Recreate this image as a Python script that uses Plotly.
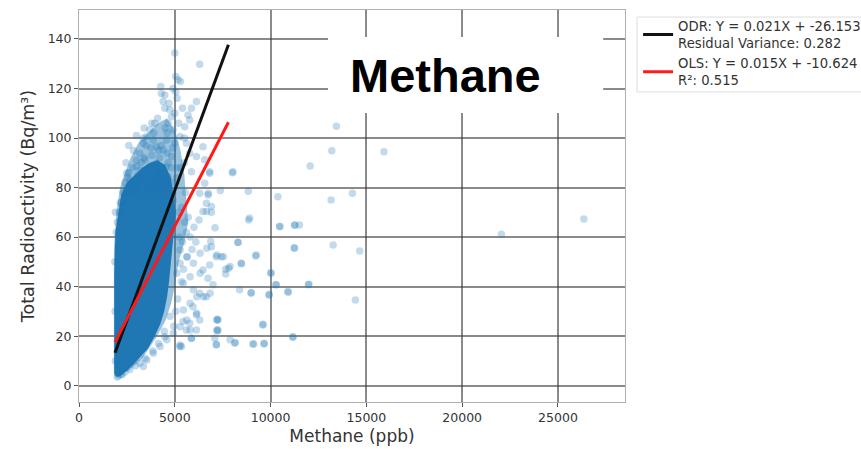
import plotly.graph_objects as go

# ---- data ----
# isolated / fringe scatter points: methane (ppb), total radioactivity (Bq/m3)
methane_pts = [
    13437, 13194, 15920, 12066, 14271, 13160, 26354, 22050, 13264, 14653, 11979, 14427, 11510,
    8003, 6823, 7378, 8837, 10382, 8906, 10486, 11267, 7101, 8300, 11233, 9219, 8472, 10000,
    7812, 7656, 10278, 8976, 9932, 10920, 7222, 9601, 7222, 11163, 8160, 9115, 9670, 7170, 7083,
    6755, 6650, 6911, 6474, 6266, 6875, 6911, 7171, 7432, 7656, 6823, 6474, 6734, 6994, 6302,
    6650, 5953, 6130, 5781, 5432, 5609, 5869, 5349, 4479,
    5260, 5869, 6130, 6302, 7255, 7255, 7171, 8124, 9080, 9653, 11163, 9601, 8385, 8994,
    9913, 10295, 10904, 11996, 10035, 8472, 9254, 8300, 10470, 11250, 11250, 8855,
    5000, 6302, 4271, 5052, 5172, 5297, 5052, 5120, 4479, 4391, 4479, 6130, 5869, 5692, 5781,
    5521, 4739, 4828, 4651, 4911, 3958, 3698, 3526, 3349, 5260, 5609, 5781, 6130, 6474, 6562,
    5869, 6823, 6562, 6302, 6734, 6911, 6650, 8036, 2484, 2656, 2396, 2224, 2307,
    3349, 3177, 3437, 3005, 3698, 4047, 4219, 4567, 4047, 4479, 3609, 3177, 3005, 3437, 3870,
    4219, 4911, 4651, 4828, 4391, 4047, 3870, 4567,
    5277, 5626, 5971, 6320, 6670, 7192, 7536, 7886, 6320, 5799, 5449, 5971, 6493, 6842, 5799,
    5449, 6148, 5626, 5277, 4927, 5799, 4582, 4233, 3883, 3539, 3189, 3361, 5277, 7192, 7192,
    7886, 6148, 5104, 5277,
    5400, 5600, 5800, 6000, 5500, 5200, 5700, 6100, 5900,
    2300, 2500, 2700, 2900, 3100, 3300, 3500, 3700, 3900, 4100, 4300, 4500, 4700, 4900,
    2600, 2800, 3200, 3600, 4000, 4400, 4800, 3400, 3800, 4200, 4600, 3000, 5100, 5300, 5500,
    2400, 3500, 4300, 4900, 3900, 4500, 5200, 4100, 4700, 5000, 5400, 4300, 4900,
    2000, 2200, 2400, 1950, 2000, 2100, 2150,
    2550, 2750, 3050, 3350, 3650, 3950, 4250, 4550, 4850, 2450, 2850, 3250, 3750, 4150, 4650,
    5050, 5150, 5350, 5450, 5650, 5250, 4950, 5350, 5550, 5150, 4750, 4450, 4150, 3850, 3450,
    2950, 2650, 2250, 2050, 1900, 1880, 1870, 1900, 2600, 3000, 3400, 3800, 4600, 5000, 5500,
]
radio_pts = [
    104.8, 94.9, 94.5, 88.7, 77.7, 75.0, 67.3, 61.1, 56.8, 54.4, 40.7, 34.6, 64.9,
    86.0, 86.4, 78.8, 78.5, 76.3, 67.7, 64.4, 64.8, 63.8, 57.9, 55.7, 52.4, 49.2, 45.6,
    47.4, 45.1, 40.7, 37.3, 36.8, 37.7, 26.8, 24.8, 22.1, 19.5, 17.4, 16.8, 17.1, 16.7, 19.1,
    77.7, 73.7, 70.0, 70.3, 66.9, 58.2, 56.1, 52.1, 52.1, 47.0, 48.7, 46.7, 43.4, 40.7, 37.3,
    35.9, 31.9, 28.6, 25.2, 25.9, 22.5, 19.1, 15.8, 19.8,
    15.8, 19.1, 22.5, 26.5, 26.5, 22.5, 16.4, 17.1, 16.8, 16.8, 19.8, 24.5, 38.7, 37.6,
    36.6, 40.7, 38.0, 41.0, 45.4, 49.4, 52.8, 57.8, 64.2, 64.9, 55.5, 66.9,
    134.3, 129.8, 120.8, 124.8, 123.5, 122.8, 118.7, 116.1, 117.4, 114.7, 112.0, 114.7, 112.0, 109.3, 107.3,
    104.6, 111.4, 108.6, 106.0, 103.3, 106.0, 103.3, 100.6, 99.9, 100.6, 97.9, 93.9, 92.5, 96.5, 91.2,
    86.4, 85.8, 81.7, 77.7, 77.0, 72.3, 70.3, 86.4, 85.8, 83.1, 77.7, 73.7, 69.6,
    97.9, 93.9, 91.2, 88.5, 88.5, 89.8, 85.8, 88.5, 83.1, 80.4, 80.4, 84.4, 79.0, 76.3, 77.7,
    75.0, 75.0, 84.4, 92.5, 95.2, 96.5, 99.2, 99.2,
    54.8, 52.1, 49.4, 53.5, 55.5, 52.8, 52.1, 48.1, 45.4, 44.0, 41.4, 38.7, 35.9, 37.3, 33.3,
    30.6, 29.2, 26.5, 23.8, 21.2, 22.5, 18.5, 15.8, 13.1, 10.4, 9.0, 7.7, 16.4, 26.5, 22.5,
    18.5, 35.9, 45.4, 49.4,
    58, 62, 60, 64, 66, 70, 68, 58, 55,
    78, 80, 78, 82, 80, 83, 79, 82, 80, 79, 82, 78, 80, 78,
    86, 88, 87, 86, 87, 86, 88, 92, 93, 92, 94, 91, 84, 88, 90,
    82, 97, 97, 96, 102, 104, 106, 108, 114, 110, 112, 118, 120,
    3.5, 4.5, 5.5, 62, 66, 70, 74,
    84, 81, 85, 84, 88, 84, 85, 83, 82, 90, 95, 90, 96, 95, 90,
    30, 35, 42, 47, 52, 60, 24, 72, 78, 88, 28, 22, 17, 14, 11,
    8, 6.5, 4.5, 4, 10, 30, 50, 70, 97, 101, 104, 106, 102, 98, 100,
]

# outline of the saturated dense core of the cloud
core_methane = [1840, 1950, 2150, 2500, 2900, 3200, 3600, 3950, 4250, 4450, 4600, 4700,
                4800, 4900, 5000, 5050, 4900, 4800, 4500, 4100, 3700, 3300, 2900, 2500,
                2200, 2050, 1900, 1840, 1830, 1840]
core_radio = [5, 3.5, 3.8, 6, 9, 11.5, 15, 20, 25, 30, 36, 42,
              50, 57, 63, 70, 78, 84, 89, 91, 90, 88, 85, 82,
              77, 70, 62, 45, 20, 5]

# outline of the half-dense halo around the core
halo_methane = [1820, 2600, 3300, 4000, 4500, 4800, 5000, 5200, 5500, 5700, 5600, 5500,
                5300, 5000, 4600, 4100, 3600, 3100, 2700, 2400, 2150, 1950, 1820, 1810, 1820]
halo_radio = [4, 6, 11, 19, 26, 33, 40, 50, 58, 66, 75, 85,
              95, 103, 108, 106, 102, 98, 92, 86, 80, 70, 55, 30, 4]

# fitted lines
fit_x = [1880, 7800]
odr_slope, odr_intercept = 0.021, -26.153
ols_slope, ols_intercept = 0.015, -10.624
odr_label = "ODR: Y = 0.021X + -26.153<br>Residual Variance: 0.282"
ols_label = "OLS: Y = 0.015X + -10.624<br>R²: 0.515"

x_ticks = [0, 5000, 10000, 15000, 20000, 25000]
y_ticks = [0, 20, 40, 60, 80, 100, 120, 140]

# ---- figure ----
fig = go.Figure()
fig.add_trace(go.Scatter(x=halo_methane, y=halo_radio, mode="lines", fill="toself",
                         fillcolor="rgba(31,119,180,0.45)", line=dict(width=0, color="rgba(0,0,0,0)"),
                         hoverinfo="skip", showlegend=False))
fig.add_trace(go.Scatter(x=core_methane, y=core_radio, mode="lines", fill="toself",
                         fillcolor="#1f77b4", line=dict(width=0, color="rgba(0,0,0,0)"),
                         hoverinfo="skip", showlegend=False))
fig.add_trace(go.Scatter(x=methane_pts, y=radio_pts, mode="markers",
                         marker=dict(size=7.5, color="rgba(31,119,180,0.27)", line=dict(width=0)),
                         showlegend=False))
fig.add_trace(go.Scatter(x=fit_x, y=[odr_slope * v + odr_intercept for v in fit_x],
                         mode="lines", line=dict(color="#111111", width=3), name=odr_label))
fig.add_trace(go.Scatter(x=fit_x, y=[ols_slope * v + ols_intercept for v in fit_x],
                         mode="lines", line=dict(color="#ff1a1a", width=3), name=ols_label))

axis_common = dict(showgrid=True, gridcolor="rgba(60,60,60,0.6)", gridwidth=1.5,
                   zeroline=False, showline=True, linecolor="#b0b0b0", linewidth=1,
                   mirror=True, ticks="outside", ticklen=4, tickcolor="#555555",
                   tickfont=dict(family="DejaVu Sans", size=12.5, color="#333333"))

fig.update_xaxes(range=[0, 28500], tickvals=x_ticks, ticktext=[str(v) for v in x_ticks],
                 title=dict(text="Methane (ppb)", font=dict(family="DejaVu Sans", size=17, color="#333333"),
                            standoff=6),
                 **axis_common)
fig.update_yaxes(range=[-6.6, 151.7], tickvals=y_ticks, ticktext=[str(v) for v in y_ticks],
                 title=dict(text="Total Radioactivity (Bq/m³)",
                            font=dict(family="DejaVu Sans", size=17.5, color="#333333"), standoff=8),
                 **axis_common)

# white label box with the gas name
fig.add_shape(type="rect", xref="paper", yref="paper", x0=0.456, x1=0.960, y0=0.737, y1=0.931,
              fillcolor="white", line=dict(width=0), layer="above")
fig.add_annotation(x=0.672, y=0.834, xref="paper", yref="paper", text="<b>Methane</b>",
                   showarrow=False, font=dict(family="Liberation Sans", size=47, color="black"),
                   xanchor="center", yanchor="middle")

# legend frame
fig.add_shape(type="rect", xref="paper", yref="paper", x0=1.022, x1=1.5, y0=0.791, y1=0.982,
              fillcolor="white", line=dict(width=1, color="#dddddd"), layer="below")

fig.update_layout(
    width=861, height=449,
    margin=dict(l=79, r=236, t=10, b=47, autoexpand=False),
    paper_bgcolor="white", plot_bgcolor="white",
    showlegend=True,
    legend=dict(x=1.024, y=0.998, xanchor="left", yanchor="top",
                font=dict(family="DejaVu Sans", size=13.2, color="#333333"),
                bgcolor="rgba(0,0,0,0)", borderwidth=0,
                tracegroupgap=2),
)

fig.write_html("out.html")
